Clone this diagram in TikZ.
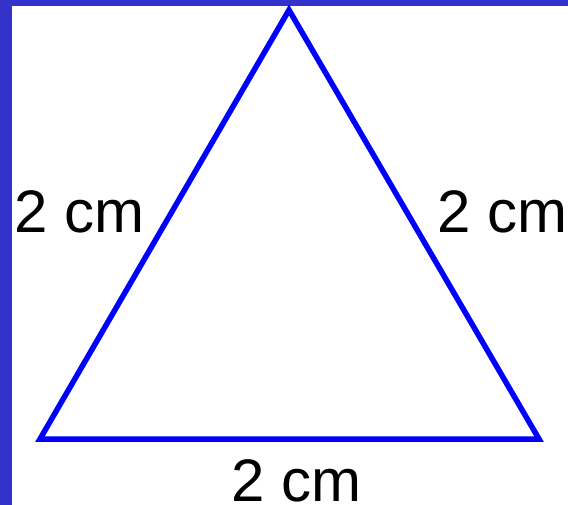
\documentclass[tikz,border=0pt]{standalone}
\usepackage{fontspec}
\setmainfont{Liberation Sans}
\definecolor{frame}{HTML}{3333CC}
\definecolor{tri}{HTML}{0000FF}
\begin{document}
\begin{tikzpicture}[x=1pt,y=-1pt,
  side/.style={draw=tri,line width=5.5pt,line join=miter},
  lbl/.style={inner sep=0pt,font=\fontsize{60}{64}\selectfont}]
\useasboundingbox (0,0) rectangle (568,505);
\fill[white] (0,0) rectangle (568,505);
\fill[frame] (0,0) rectangle (568,6);
\fill[frame] (0,0) rectangle (12,505);
\coordinate (A) at (289,10);
\coordinate (B) at (40,439);
\coordinate (C) at (539,439);
\draw[side] (A) -- (B) -- (C) -- cycle;
\node[lbl] (l) at (80,212) {2 cm};
\node[lbl] (r) at (503,212) {2 cm};
\node[lbl] (b) at (297,481) {2 cm};
\end{tikzpicture}
\end{document}
